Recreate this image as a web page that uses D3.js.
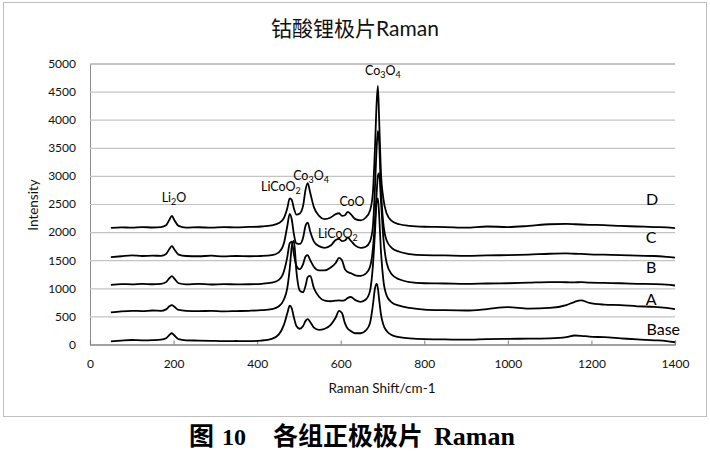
<!DOCTYPE html>
<html>
<head>
<meta charset="utf-8">
<script src="https://cdn.jsdelivr.net/npm/d3@7"></script>
<style>
  body { margin: 0; background: #fff; }
  svg { display: block; }
</style>
</head>
<body>
<div class="chartBox"></div>
<script>
// raman shift grid (cm-1)
var shift = [50, 75, 100, 125, 150, 170, 182, 190, 196, 202, 212, 230, 260, 290, 320,
  350, 380, 410, 435, 452, 464, 472, 478, 483, 488, 494, 502, 510, 516, 521,
  527, 536, 548, 562, 576, 588, 596, 603, 610, 617, 624, 635, 648, 660, 670,
  677, 682, 686, 689, 692, 696, 702, 710, 722, 740, 765, 800, 850, 900, 950,
  1000, 1050, 1100, 1140, 1160, 1175, 1195, 1230, 1270, 1310, 1350, 1380, 1400];

// intensity of each sample, same grid as shift
var seriesD = [2075, 2085, 2078, 2090, 2082, 2088, 2120, 2220, 2290, 2210,
  2110, 2080, 2086, 2078, 2090, 2083, 2092, 2100, 2120, 2160,
  2250, 2420, 2600, 2570, 2420, 2310, 2330, 2470, 2760, 2870,
  2700, 2440, 2290, 2230, 2260, 2320, 2335, 2290, 2300, 2360,
  2320, 2230, 2210, 2260, 2380, 2700, 3500, 4300, 4600, 4000,
  3100, 2600, 2330, 2200, 2140, 2110, 2095, 2090, 2080, 2100,
  2090, 2110, 2140, 2145, 2140, 2135, 2130, 2125, 2110, 2100,
  2090, 2085, 2070];
var seriesC = [1555, 1570, 1585, 1575, 1580, 1578, 1610, 1700, 1750, 1690,
  1600, 1575, 1570, 1580, 1568, 1575, 1570, 1575, 1590, 1640,
  1800, 2100, 2325, 2220, 1960, 1800, 1790, 1900, 2120, 2170,
  2010, 1830, 1750, 1720, 1760, 1860, 1880, 1840, 1850, 1900,
  1850, 1760, 1720, 1740, 1830, 2100, 2800, 3500, 3800, 3600,
  2800, 2150, 1850, 1720, 1650, 1610, 1590, 1585, 1578, 1585,
  1590, 1600, 1615, 1620, 1615, 1612, 1605, 1598, 1590, 1580,
  1575, 1560, 1545];
var seriesB = [1060, 1075, 1070, 1080, 1072, 1078, 1110, 1180, 1215, 1170,
  1090, 1070, 1078, 1068, 1075, 1070, 1072, 1080, 1100, 1150,
  1300, 1550, 1800, 1830, 1600, 1400, 1340, 1430, 1570, 1590,
  1500, 1380, 1320, 1320, 1370, 1450, 1540, 1500, 1340, 1290,
  1270, 1230, 1220, 1260, 1380, 1700, 2200, 2700, 3000, 3050,
  2600, 1900, 1450, 1250, 1160, 1110, 1090, 1085, 1078, 1085,
  1090, 1100, 1110, 1108, 1105, 1110, 1100, 1095, 1090, 1080,
  1075, 1065, 1050];
var seriesA = [570, 590, 600, 595, 605, 600, 625, 680, 700, 670,
  615, 600, 595, 598, 590, 595, 600, 610, 630, 680,
  800, 1000, 1350, 1750, 1850, 1300, 960, 930, 1050, 1200,
  1220, 1000, 850, 780, 770, 780, 785, 780, 790, 830,
  845, 790, 760, 800, 950, 1400, 2000, 2550, 2600, 2300,
  1700, 1150, 870, 750, 690, 650, 620, 610, 605, 630,
  665, 640, 650, 700, 760, 785, 740, 710, 700, 680,
  670, 650, 630];
var seriesBase = [55, 70, 80, 75, 78, 85, 110, 170, 200, 160,
  95, 75, 70, 65, 60, 62, 60, 70, 100, 180,
  350, 550, 690, 640, 480, 330, 280, 330, 420, 450,
  400, 300, 260, 280, 350, 480, 600, 560, 380, 280,
  240, 200, 200, 250, 380, 700, 1000, 1080, 1000, 800,
  550, 350, 240, 170, 130, 110, 95, 90, 85, 95,
  100, 105, 110, 130, 160, 155, 140, 130, 110, 90,
  75, 60, 40];

var seriesNames = ['D', 'C', 'B', 'A', 'Base'];
var seriesValues = [seriesD, seriesC, seriesB, seriesA, seriesBase];
// where each name sits, in data units [shift, intensity]
var seriesNameAt = [[1345, 2480], [1343, 1810], [1343, 1272], [1343, 703], [1372, 170]];

// peak assignments: [text, subscript, tail], anchored at [shift, intensity]
var peakNames = [['Li', '2', 'O'], ['LiCoO', '2', ''], ['Co', '3', 'O4'],
  ['CoO', '', ''], ['LiCoO', '2', ''], ['Co', '3', 'O4']];
var peakAt = [[201, 2536], [457, 2731], [529, 2927], [627, 2464], [593, 1895], [701, 4795]];

var xTicks = [0, 200, 400, 600, 800, 1000, 1200, 1400];
var yTicks = [0, 500, 1000, 1500, 2000, 2500, 3000, 3500, 4000, 4500, 5000];

var W = 710, H = 453;
var latin = 'Lato, "Open Sans", sans-serif';
var cjk = 'Lato, "Noto Sans CJK SC", sans-serif';

var svg = d3.select('.chartBox').append('svg')
  .attr('width', W)
  .attr('height', H);

svg.append('rect').attr('width', W).attr('height', H).attr('fill', '#fff');

// chart frame
svg.append('rect')
  .attr('x', 3.5).attr('y', 2.5)
  .attr('width', 703).attr('height', 414)
  .attr('fill', 'none')
  .attr('stroke', '#bfbfbf')
  .attr('stroke-width', 1);

var x = d3.scaleLinear().domain([0, 1400]).range([90, 675]);
var y = d3.scaleLinear().domain([0, 5000]).range([344.5, 63.5]);

// gridlines + y labels
var gy = svg.append('g')
  .attr('transform', 'translate(90,0)')
  .call(d3.axisLeft(y).tickValues(yTicks).tickFormat(d3.format('d'))
    .tickSize(-585).tickPadding(14));
gy.select('.domain').attr('stroke', '#8c8c8c');
gy.selectAll('.tick line').attr('stroke', '#c4c4c4').attr('stroke-width', 1.2);
gy.selectAll('.tick text')
  .attr('font-family', latin)
  .attr('font-size', 12)
  .attr('fill', '#111');

// x axis, ticks point up into the plot like the excel original
var gx = svg.append('g')
  .attr('transform', 'translate(0,344.5)')
  .call(d3.axisBottom(x).tickValues(xTicks).tickFormat(d3.format('d'))
    .tickSize(-4).tickPadding(15));
gx.select('.domain').attr('stroke', '#7f7f7f').attr('stroke-width', 1.2);
gx.selectAll('.tick line').attr('stroke', '#7f7f7f');
gx.selectAll('.tick text')
  .attr('font-family', latin)
  .attr('font-size', 12)
  .attr('fill', '#111');

// the spectra
var line = d3.line()
  .x(function (d) { return x(d[0]); })
  .y(function (d) { return y(d[1]); })
  .curve(d3.curveMonotoneX);

svg.append('g').selectAll('path')
  .data(seriesValues)
  .enter().append('path')
  .attr('d', function (vals) {
    return line(vals.map(function (v, i) { return [shift[i], v]; }));
  })
  .attr('fill', 'none')
  .attr('stroke', '#000')
  .attr('stroke-width', 1.8)
  .attr('stroke-linejoin', 'round');

// series names on the right
svg.append('g').selectAll('text')
  .data(seriesNames)
  .enter().append('text')
  .attr('x', function (d, i) { return x(seriesNameAt[i][0]); })
  .attr('y', function (d, i) { return y(seriesNameAt[i][1]); })
  .attr('text-anchor', 'middle')
  .attr('font-family', latin)
  .attr('font-size', 16)
  .attr('fill', '#000')
  .text(function (d) { return d; });

// peak labels with subscripts
peakNames.forEach(function (p, i) {
  var t = svg.append('text')
    .attr('x', x(peakAt[i][0]))
    .attr('y', y(peakAt[i][1]))
    .attr('text-anchor', 'middle')
    .attr('font-family', latin)
    .attr('font-size', 12.5)
    .attr('fill', '#000');
  t.append('tspan').text(p[0]);
  var tail = p[2];
  if (p[1] !== '') {
    t.append('tspan').attr('dy', 3).attr('font-size', 9).text(p[1]);
    if (tail !== '') {
      // second subscript for Co3O4
      var last = tail.slice(-1);
      var mid = tail.slice(0, -1);
      if (/[0-9]/.test(last)) {
        t.append('tspan').attr('dy', -3).text(mid);
        t.append('tspan').attr('dy', 3).attr('font-size', 9).text(last);
      } else {
        t.append('tspan').attr('dy', -3).text(tail);
      }
    }
  }
});

// titles
svg.append('text')
  .attr('x', 355).attr('y', 36)
  .attr('text-anchor', 'middle')
  .attr('font-family', cjk)
  .attr('font-size', 21)
  .attr('fill', '#111')
  .text('钴酸锂极片Raman');

svg.append('text')
  .attr('transform', 'translate(38,205) rotate(-90)')
  .attr('text-anchor', 'middle')
  .attr('font-family', latin)
  .attr('font-size', 13.5)
  .attr('fill', '#111')
  .text('Intensity');

svg.append('text')
  .attr('x', 382).attr('y', 393)
  .attr('text-anchor', 'middle')
  .attr('font-family', latin)
  .attr('font-size', 13.5)
  .attr('fill', '#111')
  .text('Raman Shift/cm-1');

// figure caption under the frame
var cap = svg.append('text')
  .attr('y', 445)
  .attr('font-weight', 'bold')
  .attr('font-size', 25)
  .attr('fill', '#000');
cap.append('tspan').attr('x', 189).attr('font-family', '"Noto Sans CJK SC"').text('图');
cap.append('tspan').attr('x', 222).attr('font-family', '"Liberation Serif"').attr('font-size', 24).text('10');
cap.append('tspan').attr('x', 273).attr('font-family', '"Noto Sans CJK SC"').text('各组正极极片');
cap.append('tspan').attr('x', 434).attr('font-family', '"Liberation Serif"').attr('font-size', 26).text('Raman');
</script>
</body>
</html>
